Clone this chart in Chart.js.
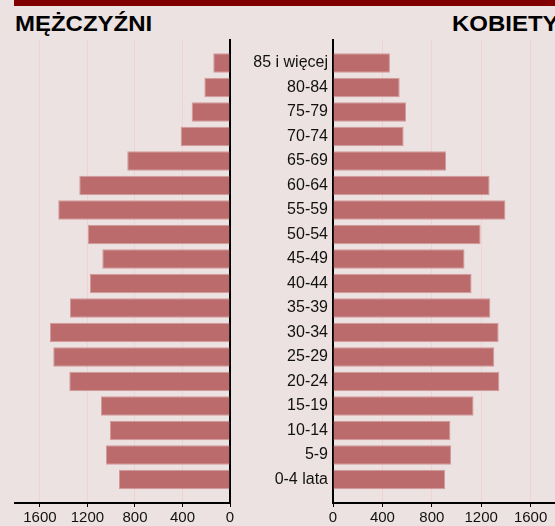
<!DOCTYPE html>
<html>
<head>
<meta charset="utf-8">
<script src="https://cdn.jsdelivr.net/npm/chart.js@4"></script>
<style>
    body { margin: 0; background: #ece2e1; overflow: hidden; width: 555px; height: 526px; position: relative; }
    #topBar { position: absolute; left: 14px; top: 0; width: 560px; height: 6px; background: #800000; }
    .title { position: absolute; top: 11px; font: bold 22px "Liberation Sans", Arial, sans-serif; color: #000; white-space: nowrap; transform: scaleX(1.09); transform-origin: left top; }
    #menTitle { left: 15px; }
    #womenTitle { left: 452px; }
    #menBox { position: absolute; left: 0; top: 0; width: 240px; height: 526px; }
    #womenBox { position: absolute; left: 240px; top: 0; width: 340px; height: 526px; }
</style>
</head>
<body>
<div id="topBar"></div>
<div class="title" id="menTitle">MĘŻCZYŹNI</div>
<div class="title" id="womenTitle">KOBIETY</div>
<div id="menBox"><canvas id="menChart"></canvas></div>
<div id="womenBox"><canvas id="womenChart"></canvas></div>

<script>
// grupy wieku, od najmłodszej (dół) do najstarszej (góra)
ages = ['0-4 lata', '5-9', '10-14', '15-19', '20-24', '25-29', '30-34', '35-39', '40-44',
        '45-49', '50-54', '55-59', '60-64', '65-69', '70-74', '75-79', '80-84', '85 i więcej']
men = [935, 1044, 1011, 1086, 1353, 1488, 1516, 1347, 1179, 1075, 1196, 1446, 1269, 865, 415, 323, 216, 141]
women = [908, 957, 951, 1138, 1347, 1306, 1341, 1274, 1122, 1065, 1195, 1396, 1268, 916, 572, 591, 540, 461]
xTicks = [0, 400, 800, 1200, 1600]

var fontFamily = '"Liberation Sans", Arial, sans-serif';
var barColor = '#bb6b6b';
var barBorder = '#d29a9a';
var gridColor = '#f0d2d2';

function toPoints(values) {
    return values.map((v, i) => ({x: v, y: i}));
}

function xAxis(max, reverse) {
    return {
        type: 'linear',
        min: 0,
        max: max,
        reverse: reverse,
        bounds: 'data',
        afterBuildTicks: function(scale) {
            scale.ticks = xTicks.map(v => ({value: v}));
        },
        afterFit: function(scale) {
            scale.height = 23;
            scale.paddingLeft = 0;
            scale.paddingRight = 0;
        },
        grid: {color: gridColor, lineWidth: 1, tickLength: 4, tickColor: '#000', tickWidth: 1},
        border: {color: '#000', width: 2},
        ticks: {
            color: '#111',
            padding: 2,
            font: {family: fontFamily, size: 15},
            maxRotation: 0,
            callback: function(value) {
                return String(value);
            }
        }
    };
}

function yAxis(position, width, showLabels) {
    return {
        type: 'linear',
        position: position,
        min: -0.96,
        max: 17.94,
        bounds: 'data',
        offset: false,
        afterBuildTicks: function(scale) {
            scale.ticks = ages.map((a, i) => ({value: i}));
        },
        afterFit: function(scale) {
            scale.width = width;
        },
        grid: {display: false, drawTicks: false, offset: false},
        border: {color: '#000', width: 2},
        ticks: {
            display: showLabels,
            color: '#111',
            padding: 5,
            font: {family: fontFamily, size: 16},
            callback: function(value) {
                return ages[value];
            }
        }
    };
}

function makeChart(id, values, xMax, reverse, yPos, yWidth, showLabels, padding) {
    return new Chart(document.getElementById(id), {
        type: 'bar',
        data: {
            datasets: [{
                data: toPoints(values),
                backgroundColor: barColor,
                borderColor: barBorder,
                borderWidth: 1,
                barPercentage: 0.8,
                categoryPercentage: 1
            }]
        },
        options: {
            indexAxis: 'y',
            responsive: true,
            maintainAspectRatio: false,
            animation: false,
            layout: {padding: padding},
            scales: {
                x: xAxis(xMax, reverse),
                y: yAxis(yPos, yWidth, showLabels)
            },
            plugins: {
                legend: {display: false},
                tooltip: {enabled: false}
            }
        }
    });
}

makeChart('menChart', men, 1810, true, 'right', 10, false, {top: 40, left: 15, right: 0, bottom: 0});
makeChart('womenChart', women, 2000, false, 'left', 93, true, {top: 40, left: 0, right: 0, bottom: 0});
</script>
</body>
</html>
